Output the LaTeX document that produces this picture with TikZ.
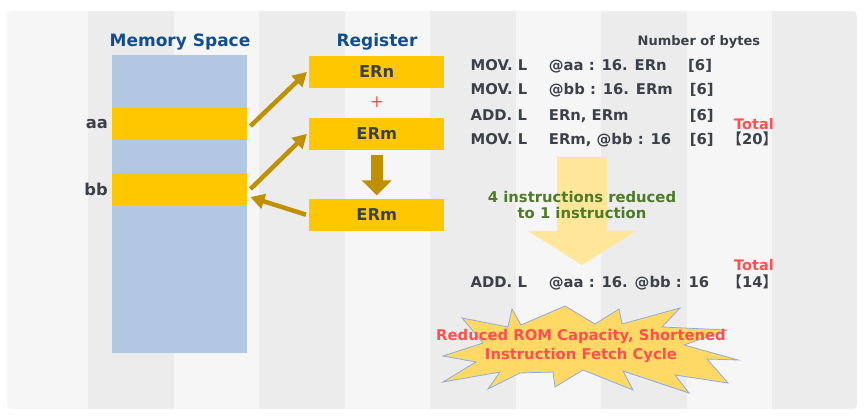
\documentclass[tikz,border=0pt]{standalone}
\usepackage{fontspec}
\setmainfont{DejaVu Sans}
\newfontfamily\cjk{Noto Sans CJK JP}
\usetikzlibrary{arrows.meta, positioning}

\definecolor{bglight}{HTML}{F6F6F6}
\definecolor{bgdark}{HTML}{ECECEC}
\definecolor{memblue}{HTML}{B2C7E1}
\definecolor{regyellow}{HTML}{FFC700}
\definecolor{darkgold}{HTML}{BF9000}
\definecolor{paleyellow}{HTML}{FFE699}
\definecolor{burstyellow}{HTML}{FFD966}
\definecolor{burstedge}{HTML}{8FAADC}
\definecolor{titleblue}{HTML}{124E8F}
\definecolor{textgray}{HTML}{3C4048}
\definecolor{alertred}{HTML}{FF4F4F}
\definecolor{notegreen}{HTML}{4F7A28}

\begin{document}
\begin{tikzpicture}[x=1pt,y=-1pt,
  title/.style={text=titleblue, font=\bfseries\fontsize{17}{20}\selectfont, anchor=base, inner sep=0pt},
  memcol/.style={fill=memblue, anchor=north west, minimum width=135pt, minimum height=297.5pt, inner sep=0pt},
  memcell/.style={fill=regyellow, anchor=north west, minimum width=135pt, minimum height=32.4pt, inner sep=0pt},
  reg/.style={fill=regyellow, minimum width=135pt, minimum height=32pt, inner sep=0pt, text=textgray, font=\bfseries\fontsize{16.3}{17}\selectfont},
  addr/.style={text=textgray, font=\bfseries\fontsize{16.3}{17}\selectfont, inner sep=0pt},
  instr/.style={text=textgray, font=\bfseries\fontsize{14.8}{15}\selectfont, anchor=base west, inner sep=0pt},
  total/.style={text=alertred, font=\bfseries\fontsize{14.5}{15}\selectfont, anchor=base west, inner sep=0pt},
  move/.style={draw=darkgold, line width=4.5pt, -{Triangle[length=14pt,width=15pt]}},
]
\useasboundingbox (0,0) rectangle (864,419);

% striped panel
\begin{scope}
  \clip[rounded corners=4pt] (7,11) rectangle (857,409);
  \fill[bglight] (7,11) rectangle (857,409);
  \fill[bgdark] (88,11) rectangle (173.5,409);
  \fill[bgdark] (259,11) rectangle (344.5,409);
  \fill[bgdark] (430,11) rectangle (515.5,409);
  \fill[bgdark] (601,11) rectangle (686.5,409);
  \fill[bgdark] (772,11) rectangle (857,409);
\end{scope}

% memory
\node[title] (memtitle) at (180,46.5) {Memory Space};
\node[memcol] (mem) at (112,55.3) {};
\node[memcell] (aa) at (112,107.7) {};
\node[memcell] (bb) at (112,172.7) {};
\node[addr, left=4pt of aa] (aalbl) {aa};
\node[addr, left=4pt of bb] (bblbl) {bb};

% registers
\node[title] (regtitle) at (377,46.5) {Register};
\node[reg, anchor=north west] (ern) at (309,55.7) {ERn};
\node[reg, below=29.5pt of ern] (erm) {ERm};
\node[reg, below=48.5pt of erm] (ermb) {ERm};
\node[text=alertred, font=\fontsize{17}{17}\selectfont, inner sep=0pt] (plus) at (377,102.5) {+};

\draw[move] ([xshift=3pt,yshift=-2pt]aa.east) -- ([xshift=-2pt]ern.west);
\draw[move] ([xshift=3pt]bb.east) -- ([xshift=-2pt]erm.west);
\draw[move] ([xshift=-3pt]ermb.west) -- ([xshift=3pt,yshift=-8pt]bb.east);
\draw[draw=darkgold, line width=12pt, -{Triangle[length=15pt,width=29pt]}] ([yshift=-5pt]erm.south) -- ([yshift=3pt]ermb.north);

% instruction list
\node[instr, font=\bfseries\fontsize{13}{13}\selectfont] (bytes) at (637.5,46) {Number of bytes};
\node[instr] (op1) at (470.5,70.3) {MOV. L};
\node[instr] (arg1) at (548.7,70.3) {@aa : 16. ERn};
\node[instr] (len1) at (688,70.3) {[6]};
\node[instr] (op2) at (470.5,95) {MOV. L};
\node[instr] (arg2) at (548.7,95) {@bb : 16. ERm};
\node[instr] (len2) at (689.7,95) {[6]};
\node[instr] (op3) at (470.5,120.3) {ADD. L};
\node[instr] (arg3) at (548.7,120.3) {ERn, ERm};
\node[instr] (len3) at (689.7,120.3) {[6]};
\node[instr] (op4) at (470.5,145) {MOV. L};
\node[instr] (arg4) at (548.7,145) {ERm, @bb : 16};
\node[instr] (len4) at (689.7,145) {[6]};
\node[total] (tot1) at (734,129.3) {Total};
\node[instr] (sum1) at (727,145) {{\cjk 【}20{\cjk 】}};

% reduction arrow
\fill[paleyellow] (557,157) -- (607,157) -- (607,231) -- (636,231) -- (582,265) -- (528,231) -- (557,231) -- cycle;
\node[text=notegreen, font=\bfseries\fontsize{14.8}{16}\selectfont, align=center, inner sep=0pt] (note) at (582,205) {4 instructions reduced\\to 1 instruction};

\node[instr] (op5) at (470.5,287.3) {ADD. L};
\node[instr] (arg5) at (548.7,287.3) {@aa : 16. @bb : 16};
\node[total] (tot2) at (734,271) {Total};
\node[instr] (sum2) at (727,287.3) {{\cjk 【}14{\cjk 】}};

% starburst
\filldraw[fill=burstyellow, draw=burstedge, line width=0.8pt]
  (565,306) -- (595,324) -- (619,309) -- (622,324) -- (680,308) -- (662,327)
  -- (727,330) -- (684,345) -- (738,360) -- (707,359) -- (728,383) -- (675,375)
  -- (689,393) -- (623,371) -- (633,390) -- (583,370) -- (555,387) -- (553,372)
  -- (520,373) -- (488,389) -- (500,372) -- (443,382) -- (476,362) -- (443,356)
  -- (483,343) -- (462,318) -- (508,327) -- (512,309) -- (521,325) -- cycle;
\node[text=alertred, font=\bfseries\fontsize{14.8}{18.5}\selectfont, align=center, inner sep=0pt] (gain) at (581,346) {Reduced ROM Capacity, Shortened\\Instruction Fetch Cycle};
\end{tikzpicture}
\end{document}
